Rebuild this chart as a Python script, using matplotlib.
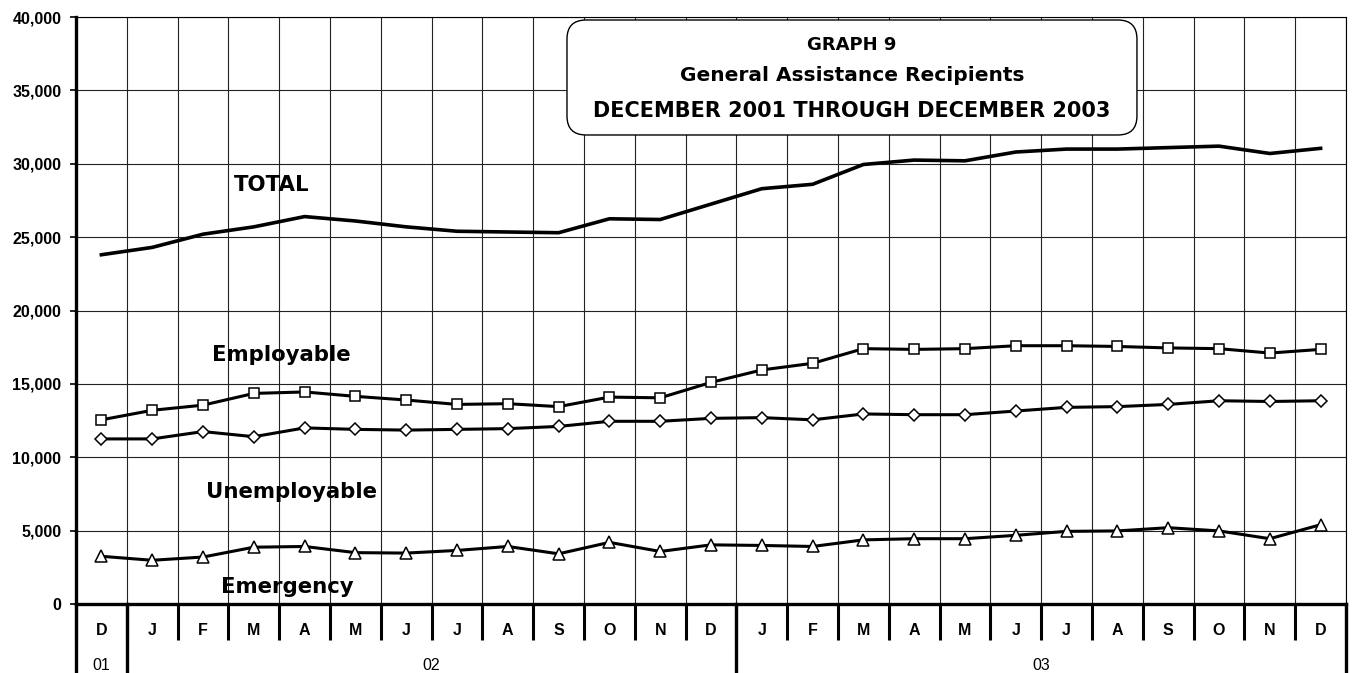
import numpy as np
import matplotlib.pyplot as plt
from matplotlib.patches import FancyBboxPatch
from matplotlib.ticker import FuncFormatter

months = ["D", "J", "F", "M", "A", "M", "J", "J", "A", "S", "O", "N", "D",
          "J", "F", "M", "A", "M", "J", "J", "A", "S", "O", "N", "D"]
year_labels = ["01", "02", "03"]
year_spans = [(0, 0), (1, 12), (13, 24)]

total = [23800, 24300, 25200, 25700, 26400, 26100, 25700, 25400, 25350, 25300,
         26250, 26200, 27250, 28300, 28600, 29950, 30250, 30200, 30800, 31000,
         31000, 31100, 31200, 30700, 31050]
employable = [12550, 13200, 13550, 14350, 14450, 14150, 13900, 13600, 13650, 13450,
              14100, 14050, 15100, 15950, 16400, 17400, 17350, 17400, 17600, 17600,
              17550, 17450, 17400, 17100, 17350]
unemployable = [11250, 11250, 11750, 11400, 12000, 11900, 11850, 11900, 11950, 12100,
                12450, 12450, 12650, 12700, 12550, 12950, 12900, 12900, 13150, 13400,
                13450, 13600, 13850, 13800, 13850]
emergency = [3250, 2980, 3200, 3870, 3920, 3500, 3470, 3650, 3920, 3420,
             4200, 3580, 4030, 3990, 3920, 4370, 4450, 4450, 4680, 4950,
             4980, 5200, 4980, 4450, 5400]

series_labels = ["TOTAL", "Employable", "Unemployable", "Emergency"]
label_pos = [(3.35, 28550), (3.55, 16950), (3.75, 7650), (3.65, 1150)]

title_lines = ["GRAPH 9", "General Assistance Recipients",
               "DECEMBER 2001 THROUGH DECEMBER 2003"]
title_sizes = [13, 14.5, 15]

fig = plt.figure(figsize=(13.53, 6.73), dpi=100)
ax = fig.add_axes([76 / 1353, 1 - 604 / 673, 1270 / 1353, 587 / 673])

x = np.arange(len(months))
ax.set_xlim(-0.5, len(months) - 0.5)
ax.set_ylim(0, 40000)

# grid
ax.set_yticks(np.arange(0, 40001, 5000))
ax.yaxis.set_major_formatter(FuncFormatter(lambda v, p: f"{int(v):,}"))
ax.set_xticks(x)
ax.set_xticklabels(months)
ax.set_xticks(np.arange(-0.5, len(months), 1), minor=True)
ax.grid(which="minor", axis="x", color="#222222", lw=0.8)
ax.grid(which="major", axis="y", color="#222222", lw=0.8)
ax.set_axisbelow(True)

ax.tick_params(axis="x", which="major", length=0, pad=14)
ax.tick_params(axis="x", which="minor", length=26, width=2.2, direction="out", color="black")
ax.tick_params(axis="y", length=4.5, width=1.2, pad=6)
for lab in ax.get_xticklabels() + ax.get_yticklabels():
    lab.set_fontfamily("Liberation Sans")
    lab.set_fontweight("bold")
    lab.set_fontsize(11.5)

for s in ["top", "right"]:
    ax.spines[s].set_linewidth(0.8)
ax.spines["left"].set_linewidth(2.4)
ax.spines["bottom"].set_linewidth(2.4)

# lines
ax.plot(x, total, color="black", lw=2.6, zorder=4)
ax.plot(x, employable, color="black", lw=2.2, marker="s", ms=7.5, mfc="white", mec="black", mew=1.1, zorder=4)
ax.plot(x, unemployable, color="black", lw=2.2, marker="D", ms=6.5, mfc="white", mec="black", mew=1.1, zorder=4)
ax.plot(x, emergency, color="black", lw=2.2, marker="^", ms=8, mfc="white", mec="black", mew=1.1, zorder=4)

for name, (lx, ly) in zip(series_labels, label_pos):
    ax.text(lx, ly, name, ha="center", va="center", fontsize=15.3,
            fontweight="bold", fontfamily="DejaVu Sans", zorder=5)

# year row below months
tr = ax.get_xaxis_transform()
for b in [-0.5, 0.5, 12.5, len(months) - 0.5]:
    ax.plot([b, b], [0, -0.125], transform=tr, color="black", lw=2.4, clip_on=False)
for name, (a, b) in zip(year_labels, year_spans):
    ax.text((a + b) / 2, -0.104, name, transform=tr, ha="center", va="center",
            fontsize=11.5, fontfamily="Liberation Sans")

# title box
box = FancyBboxPatch((0.3866, 0.799), 0.4488, 0.1959, transform=ax.transAxes,
                     boxstyle="round,pad=0,rounding_size=0.015",
                     mutation_aspect=1270 / 587, fc="white", ec="black", lw=1.0, zorder=6)
ax.add_patch(box)
for ty, line, fs in zip([0.952, 0.901, 0.840], title_lines, title_sizes):
    ax.text(0.611, ty, line, transform=ax.transAxes, ha="center", va="center",
            fontsize=fs, fontweight="bold", fontfamily="DejaVu Sans", zorder=7)

fig.savefig("out.png", dpi=100)
